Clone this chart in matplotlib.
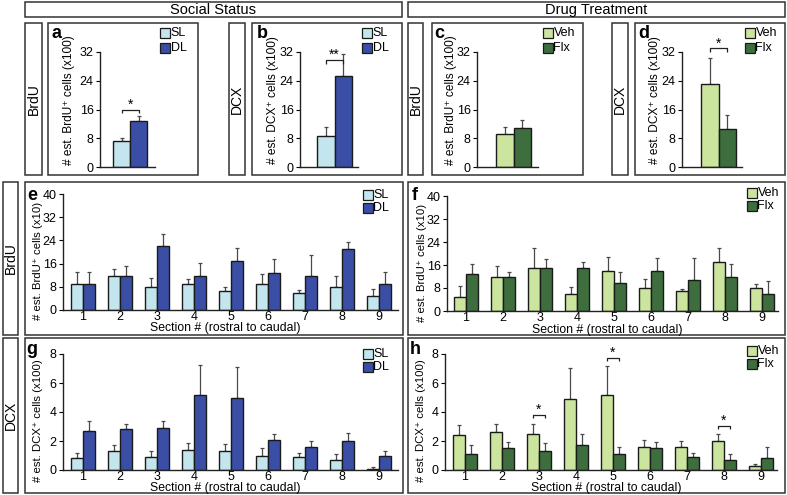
import matplotlib
matplotlib.use('Agg')
from matplotlib import pyplot as plt
from matplotlib.patches import Rectangle
import numpy as np

plt.rcParams['font.family'] = ['Liberation Sans', 'DejaVu Sans']

W, H = 787, 495

# ---- data ----
social = ['SL', 'DL']
drug = ['Veh', 'Flx']

# top row: totals (x100)
a_mean = [7.3, 12.8]; a_top = [8.2, 14.2]      # BrdU, social
b_mean = [8.5, 25.3]; b_top = [11.0, 31.4]     # DCX, social
c_mean = [9.3, 10.9]; c_top = [11.2, 13.2]     # BrdU, drug
d_mean = [23.2, 10.7]; d_top = [30.3, 14.4]    # DCX, drug

sections = [1, 2, 3, 4, 5, 6, 7, 8, 9]

# e: BrdU per section, social (x10)
e_sl = [8.9, 11.8, 7.8, 8.9, 6.7, 8.9, 5.9, 7.8, 4.8]
e_sl_top = [13.0, 14.1, 10.9, 10.7, 7.8, 12.4, 6.9, 11.6, 7.2]
e_dl = [8.9, 11.8, 22.1, 11.8, 16.9, 12.9, 11.8, 20.9, 8.9]
e_dl_top = [13.2, 15.3, 26.1, 16.3, 21.5, 17.5, 19.0, 23.3, 13.0]

# f: BrdU per section, drug (x10)
f_veh = [4.9, 11.8, 15.0, 5.9, 13.8, 7.9, 6.8, 16.9, 7.9]
f_veh_top = [8.7, 15.7, 22.0, 8.4, 18.8, 11.2, 7.7, 22.0, 9.5]
f_flx = [12.9, 11.8, 15.0, 15.0, 9.8, 13.9, 10.8, 11.9, 5.9]
f_flx_top = [16.4, 13.6, 18.0, 16.9, 13.4, 18.3, 18.3, 16.3, 10.5]

# g: DCX per section, social (x100)
g_sl = [0.8, 1.3, 0.9, 1.4, 1.3, 1.0, 0.9, 0.7, 0.1]
g_sl_top = [1.2, 1.7, 1.3, 1.86, 1.8, 1.5, 1.2, 1.08, 0.18]
g_dl = [2.7, 2.8, 2.9, 5.2, 5.0, 2.1, 1.6, 2.0, 1.0]
g_dl_top = [3.4, 3.2, 3.4, 7.24, 7.1, 2.46, 2.0, 2.53, 1.33]

# h: DCX per section, drug (x100)
h_veh = [2.4, 2.6, 2.5, 4.9, 5.2, 1.6, 1.6, 2.0, 0.3]
h_veh_top = [3.1, 3.15, 3.2, 7.06, 7.2, 2.1, 2.0, 2.5, 0.4]
h_flx = [1.1, 1.5, 1.3, 1.7, 1.1, 1.5, 0.9, 0.7, 0.8]
h_flx_top = [1.7, 1.95, 1.86, 2.46, 1.6, 1.95, 1.2, 1.08, 1.56]

# significance brackets: (section index, height, stars)
h_sig = [(2, 3.8, '*'), (4, 7.75, '*'), (7, 3.05, '*')]

c_sl, c_dl = '#c3e5ee', '#3b4ea6'
c_veh, c_flx = '#cbe49e', '#3e6e3d'
EC = '#1a1a1a'
ERR = '#4a4a4a'
TICK_FS = 9
LAB_FS = 8.6

fig = plt.figure(figsize=(W / 100, H / 100), dpi=100)


def box(x0, y0, x1, y1):
    fig.add_artist(Rectangle((x0 / W, 1 - y1 / H), (x1 - x0) / W, (y1 - y0) / H,
                             transform=fig.transFigure, fill=False, lw=1.1, ec='#333333'))


def ftext(x, y, s, **kw):
    fig.text(x / W, 1 - y / H, s, **kw)


def legend(x, y, labels, colors, dy):
    for i, (lab, col) in enumerate(zip(labels, colors)):
        yy = y + i * dy
        fig.add_artist(Rectangle((x / W, 1 - (yy + 5) / H), 10 / W, 10 / H,
                                 transform=fig.transFigure, fc=col, ec=EC, lw=0.9))
        ftext(x + 10.5, yy, lab, fontsize=9, va='center', ha='left')


def make_ax(spine_x, end_x, ytop, ybot, c0, unit):
    ax = fig.add_axes([spine_x / W, 1 - ybot / H, (end_x - spine_x) / W, (ybot - ytop) / H])
    ax.set_xlim((spine_x - c0) / unit, (end_x - c0) / unit)
    ax.spines['top'].set_visible(False)
    ax.spines['right'].set_visible(False)
    for s in ('left', 'bottom'):
        ax.spines[s].set_linewidth(1.0)
        ax.spines[s].set_color('#222222')
    ax.tick_params(axis='y', direction='out', length=3, width=0.8, labelsize=TICK_FS, pad=1.5)
    ax.tick_params(axis='x', length=0, labelsize=TICK_FS, pad=0.5)
    ax.patch.set_alpha(0)
    return ax


def bracket(ax, x0, x1, h, stars, tick):
    ax.plot([x0, x0, x1, x1], [h - tick, h, h, h - tick], color='#222222', lw=0.9,
            clip_on=False, solid_capstyle='butt')
    ax.text((x0 + x1) / 2, h - tick * 0.6, stars, ha='center', va='bottom', fontsize=10,
            clip_on=False)


# ---- boxes and headers ----
box(25, 2, 402, 17)
box(408, 2, 785, 17)
ftext(213, 10, 'Social Status', fontsize=10.5, ha='center', va='center')
ftext(596, 10, 'Drug Treatment', fontsize=10.5, ha='center', va='center')

for x0, x1, lab in [(25, 42, 'BrdU'), (229, 245, 'DCX'), (408, 423, 'BrdU'), (612, 628, 'DCX')]:
    box(x0, 23, x1, 175)
    ftext((x0 + x1) / 2, 99, lab, fontsize=10, rotation=90, ha='center', va='center')
for x0, x1 in [(48, 198), (252, 402), (432, 583), (635, 785)]:
    box(x0, 23, x1, 175)

box(3, 182, 18, 335)
ftext(10.5, 258, 'BrdU', fontsize=10, rotation=90, ha='center', va='center')
box(3, 338, 18, 493)
ftext(10.5, 415, 'DCX', fontsize=10, rotation=90, ha='center', va='center')
box(25, 182, 403, 335)
box(408, 182, 785, 335)
box(25, 338, 403, 493)
box(408, 338, 785, 493)

# ---- top row panels ----
top = [
    ('a', a_mean, a_top, social, (c_sl, c_dl), 100, 155, 121.5, 'BrdU', 56, 69, 160, (15.8, '*')),
    ('b', b_mean, b_top, social, (c_sl, c_dl), 300, 358, 326, 'DCX', 262, 273, 362, (29.7, '**')),
    ('c', c_mean, c_top, drug, (c_veh, c_flx), 477, 538, 505, 'BrdU', 439, 451, 543, None),
    ('d', d_mean, d_top, drug, (c_veh, c_flx), 682, 742, 710, 'DCX', 644, 655, 745, (33.0, '*')),
]
for letter, mean, tops, labs, cols, sx, ex, c0, marker, lx, ylx, legx, sig in top:
    ax = make_ax(sx, ex, 52, 167, c0, 17.3)
    ax.set_ylim(0, 32)
    ax.set_yticks([0, 8, 16, 24, 32])
    ax.set_xticks([])
    pos = np.arange(len(mean))
    ax.bar(pos, mean, width=1.0, color=cols, edgecolor=EC, linewidth=1.0, zorder=2)
    yerr = [np.zeros(len(mean)), np.array(tops) - np.array(mean)]
    ax.errorbar(pos, mean, yerr=yerr, fmt='none', ecolor=ERR, elinewidth=0.9,
                capsize=1.5, capthick=0.9, zorder=1)
    if sig:
        bracket(ax, 0, 1, sig[0], sig[1], 0.9)
    ftext(lx, 33, letter, fontsize=13, fontweight='bold', ha='center', va='center')
    ftext(ylx, 100, '# est. ' + marker + '\u207a cells (x100)', fontsize=LAB_FS,
          rotation=90, ha='center', va='center')
    legend(legx, 33, labs, cols, 15)

# ---- section panels ----
rows = [
    ('e', e_sl, e_sl_top, e_dl, e_dl_top, social, (c_sl, c_dl), 63, 398, 83, 194, 310, 40, 8,
     'BrdU', 'x10', 32, 196, 38, 363, 195, []),
    ('f', f_veh, f_veh_top, f_flx, f_flx_top, drug, (c_veh, c_flx), 447, 778, 466, 196, 311, 40, 8,
     'BrdU', 'x10', 415, 196, 422, 747, 193, []),
    ('g', g_sl, g_sl_top, g_dl, g_dl_top, social, (c_sl, c_dl), 63, 398, 83, 354, 470, 8, 2,
     'DCX', 'x100', 32, 349, 38, 363, 354, []),
    ('h', h_veh, h_veh_top, h_flx, h_flx_top, drug, (c_veh, c_flx), 445, 777, 465, 354, 470, 8, 2,
     'DCX', 'x100', 415, 349, 421, 747, 351, h_sig),
]
for (letter, m1, t1, m2, t2, labs, cols, sx, ex, c0, yt, yb, ymax, step,
     marker, scale, lx, ly, ylx, legx, legy, sigs) in rows:
    ax = make_ax(sx, ex, yt, yb, c0, 37.0)
    ax.set_ylim(0, ymax)
    ax.set_yticks(np.arange(0, ymax + step, step))
    pos = np.arange(len(sections))
    bw = 0.32
    for off, m, t, col in [(-bw / 2, m1, t1, cols[0]), (bw / 2, m2, t2, cols[1])]:
        ax.bar(pos + off, m, width=bw, color=col, edgecolor=EC, linewidth=1.0, zorder=2)
        yerr = [np.zeros(len(m)), np.array(t) - np.array(m)]
        ax.errorbar(pos + off, m, yerr=yerr, fmt='none', ecolor=ERR, elinewidth=0.9,
                    capsize=1.3, capthick=0.9, zorder=1)
    ax.set_xticks(pos)
    ax.set_xticklabels([str(s) for s in sections])
    # x label placed just under the tick labels, as in the original
    ftext((sx + ex) / 2 - 5, yb + 18.5, 'Section # (rostral to caudal)', fontsize=8.8,
          ha='center', va='center')
    for i, hgt, st in sigs:
        bracket(ax, i - bw / 2, i + bw / 2, hgt, st, ymax * 0.03)
    ftext(lx, ly, letter, fontsize=13, fontweight='bold', ha='center', va='center')
    ftext(ylx, (yt + yb) / 2 + 9, '# est. ' + marker + '\u207a cells (' + scale + ')',
          fontsize=8.2, rotation=90, ha='center', va='center')
    legend(legx, legy, labs, cols, 13)

plt.savefig('out.png', dpi=100)
